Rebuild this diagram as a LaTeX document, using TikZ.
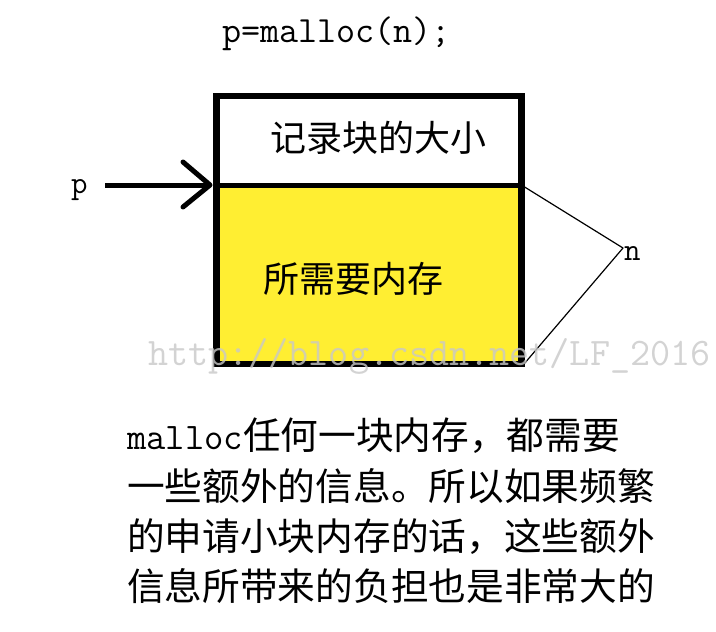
\documentclass[tikz,border=0pt]{standalone}
\usepackage{fontspec}
\newfontfamily\cjk{Noto Sans CJK SC}
\definecolor{memyellow}{RGB}{255,238,50}
\definecolor{wmgray}{RGB}{200,200,200}
\begin{document}
\begin{tikzpicture}[x=1pt,y=-1pt,
  cjktext/.style={anchor=base west,inner sep=0pt,font=\cjk\fontsize{36}{36}\selectfont},
  monotext/.style={anchor=base west,inner sep=0pt,font=\ttfamily\fontsize{37}{37}\selectfont},
  lbltext/.style={anchor=base west,inner sep=0pt,font=\ttfamily\fontsize{32}{32}\selectfont},
  paratext/.style={anchor=base west,inner sep=0pt,font=\cjk\fontsize{37.7}{37.7}\selectfont},
  thick box/.style={line width=6.5pt},
  thin link/.style={line width=1.2pt,line join=round}]
\useasboundingbox (0,0) rectangle (716,632);
% title
\node[monotext] (title) at (222,42) {p=malloc(n);};
% memory block
\fill[memyellow] (216.5,185.5) rectangle (521.5,364);
\draw[thick box] (216.5,96) rectangle (521.5,364);
\draw[line width=5pt] (216.5,185.5) -- (521.5,185.5);
\coordinate (divR) at (523,186);
\coordinate (botR) at (524,364);
\node[cjktext] (hdr) at (270,151) {记录块的大小};
\node[cjktext] (mem) at (263,292.5) {所需要内存};
% pointer p
\node[lbltext] (p) at (71,193) {p};
\coordinate (tail) at (105,185);
\coordinate (tip) at (210,185);
\draw[line width=5pt] (tail) -- (tip);
\draw[line width=5pt,line cap=round,line join=round] (183,162) -- (tip) -- (183,207);
% n brace
\node[lbltext] (n) at (624,260) {n};
\coordinate (apex) at (623,248);
\draw[thin link] (divR) -- (apex) -- (botR);
% paragraph
\node[anchor=base west,inner sep=0pt] (l1) at (127,449.5) {\ttfamily\fontsize{37.5}{37.5}\selectfont malloc\cjk\fontsize{37.7}{37.7}\selectfont 任何一块内存，都需要};
\node[paratext] (l2) at (127,500.5) {一些额外的信息。所以如果频繁};
\node[paratext] (l3) at (127,550.5) {的申请小块内存的话，这些额外};
\node[paratext] (l4) at (127,600.5) {信息所带来的负担也是非常大的};
% watermark
\node[anchor=base west,inner sep=0pt,text=wmgray,opacity=0.8,font=\ttfamily\fontsize{39}{39}\selectfont] (wm) at (148,365) {http://blog.csdn.net/LF\_2016};
\end{tikzpicture}
\end{document}
